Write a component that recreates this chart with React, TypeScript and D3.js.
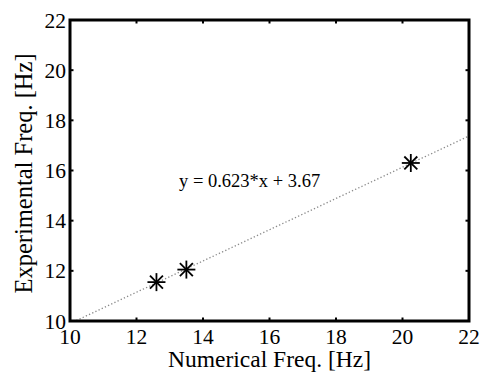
import { useEffect, useRef } from "react";
import * as d3 from "d3";

const numericalFreq = [12.6, 13.5, 20.25];
const experimentalFreq = [11.55, 12.05, 16.3];
const fitSlope = 0.623;
const fitIntercept = 3.67;
const xTicks = [10, 12, 14, 16, 18, 20, 22];
const yTicks = [10, 12, 14, 16, 18, 20, 22];

export default function App() {
  const svgRef = useRef<SVGSVGElement>(null);

  useEffect(() => {
    if (!svgRef.current) return;
    const root = d3.select(svgRef.current);
    root.selectAll("*").remove();

    const W = 480, H = 376;
    const margin = { top: 20, right: 11, bottom: 55, left: 70 };
    const width = W - margin.left - margin.right;
    const height = H - margin.top - margin.bottom;
    const font = "'Liberation Serif', 'Times New Roman', serif";

    const x = d3.scaleLinear().domain([10, 22]).range([0, width]);
    const y = d3.scaleLinear().domain([10, 22]).range([height, 0]);

    const g = root.append("g").attr("transform", `translate(${margin.left},${margin.top})`);

    // fit line, dotted grey, clipped to the box
    g.append("clipPath").attr("id", "plotclip")
      .append("rect").attr("width", width).attr("height", height);
    const fitX = d3.range(10, 22.01, 0.1);
    const line = d3.line<number>()
      .x(d => x(d))
      .y(d => y(fitSlope * d + fitIntercept));
    g.append("path")
      .datum(fitX)
      .attr("clip-path", "url(#plotclip)")
      .attr("d", line)
      .attr("fill", "none")
      .attr("stroke", "#8a8a8a")
      .attr("stroke-width", 1.3)
      .attr("stroke-dasharray", "1.3,2.2");

    // star markers
    const s = 9;
    numericalFreq.forEach((nx, i) => {
      const cx = x(nx), cy = y(experimentalFreq[i]);
      const m = g.append("g").attr("transform", `translate(${cx},${cy})`)
        .attr("stroke", "#000").attr("stroke-width", 1.8);
      m.append("line").attr("x1", -s).attr("x2", s).attr("y1", 0).attr("y2", 0);
      m.append("line").attr("x1", 0).attr("x2", 0).attr("y1", -s).attr("y2", s);
      const d = s * 0.72;
      m.append("line").attr("x1", -d).attr("x2", d).attr("y1", -d).attr("y2", d);
      m.append("line").attr("x1", -d).attr("x2", d).attr("y1", d).attr("y2", -d);
    });

    // equation text
    g.append("text")
      .attr("x", x(13.28))
      .attr("y", y(15.35))
      .attr("font-family", font)
      .attr("font-size", 18.5)
      .attr("fill", "#000")
      .text(`y = ${fitSlope}*x + ${fitIntercept}`);

    // ticks on all four sides, pointing inward
    const tl = 3.5;
    xTicks.slice(1, -1).forEach(t => {
      g.append("line").attr("x1", x(t)).attr("x2", x(t)).attr("y1", height).attr("y2", height - tl)
        .attr("stroke", "#000").attr("stroke-width", 2);
      g.append("line").attr("x1", x(t)).attr("x2", x(t)).attr("y1", 0).attr("y2", tl)
        .attr("stroke", "#000").attr("stroke-width", 2);
    });
    yTicks.slice(1, -1).forEach(t => {
      g.append("line").attr("x1", 0).attr("x2", tl).attr("y1", y(t)).attr("y2", y(t))
        .attr("stroke", "#000").attr("stroke-width", 2);
      g.append("line").attr("x1", width).attr("x2", width - tl).attr("y1", y(t)).attr("y2", y(t))
        .attr("stroke", "#000").attr("stroke-width", 2);
    });

    // box
    g.append("rect")
      .attr("width", width).attr("height", height)
      .attr("fill", "none").attr("stroke", "#000").attr("stroke-width", 3);

    // tick labels
    xTicks.forEach(t => {
      g.append("text")
        .attr("x", x(t)).attr("y", height + 23)
        .attr("text-anchor", "middle")
        .attr("font-family", font).attr("font-size", 21.5)
        .text(t);
    });
    yTicks.forEach(t => {
      g.append("text")
        .attr("x", -4).attr("y", y(t) + 7.5)
        .attr("text-anchor", "end")
        .attr("font-family", font).attr("font-size", 21.5)
        .text(t);
    });

    // axis titles
    g.append("text")
      .attr("x", width / 2).attr("y", height + 46)
      .attr("text-anchor", "middle")
      .attr("font-family", font).attr("font-size", 23.5)
      .text("Numerical Freq. [Hz]");
    g.append("text")
      .attr("transform", `translate(${-38},${153.5}) rotate(-90)`)
      .attr("text-anchor", "middle")
      .attr("font-family", font).attr("font-size", 24.5)
      .text("Experimental Freq. [Hz]");
  }, []);

  return (
    <svg ref={svgRef} width={480} height={376}
      style={{ position: "absolute", left: 0, top: 0, background: "#fff" }} />
  );
}
